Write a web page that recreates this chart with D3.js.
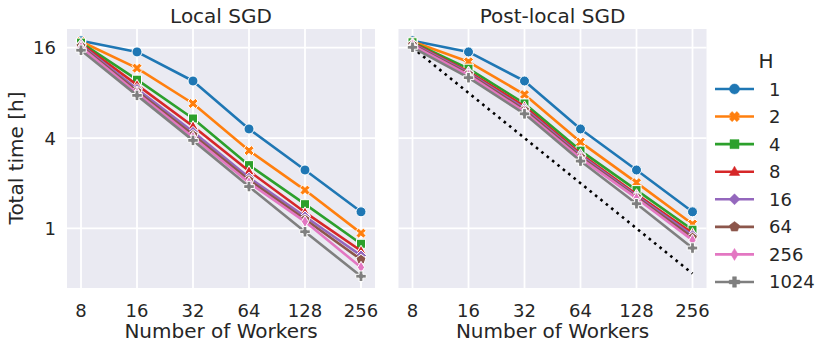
<!DOCTYPE html>
<html lang="en">
<head>
<meta charset="utf-8">
<style>
    body { margin: 0; background: #fff; }
    text { font-family: "DejaVu Sans", sans-serif; fill: #262626; }
</style>
</head>
<body>
<svg width="831" height="351"></svg>
<script src="https://d3js.org/d3.v7.min.js"></script>
<script>
    // data
    var workers = [8, 16, 32, 64, 128, 256];
    var hValues = [1, 2, 4, 8, 16, 64, 256, 1024];
    var localSgd = [
        [17.8, 15.0, 9.6, 4.6, 2.45, 1.29],
        [17.6, 11.7, 6.8, 3.3, 1.80, 0.93],
        [17.3, 9.8, 5.4, 2.64, 1.45, 0.79],
        [17.0, 9.05, 4.8, 2.41, 1.28, 0.71],
        [16.7, 8.5, 4.4, 2.18, 1.20, 0.66],
        [16.4, 8.2, 4.2, 2.10, 1.15, 0.62],
        [16.1, 8.0, 4.05, 2.02, 1.11, 0.55],
        [15.4, 7.7, 3.86, 1.90, 0.95, 0.48]
    ];
    var postLocalSgd = [
        [17.8, 15.0, 9.6, 4.6, 2.45, 1.29],
        [17.6, 12.9, 7.8, 3.76, 2.02, 1.07],
        [17.4, 11.6, 6.8, 3.3, 1.80, 0.98],
        [17.2, 11.1, 6.5, 3.14, 1.69, 0.93],
        [17.0, 10.9, 6.3, 3.07, 1.65, 0.90],
        [16.8, 10.7, 6.15, 3.0, 1.62, 0.87],
        [16.6, 10.5, 6.0, 2.93, 1.59, 0.835],
        [16.1, 10.1, 5.8, 2.81, 1.46, 0.74]
    ];
    var idealStart = 16;
    var yTicks = [1, 4, 16];
    var colors = ["#1f77b4", "#ff7f0e", "#2ca02c", "#d62728", "#9467bd", "#8c564b", "#e377c2", "#7f7f7f"];
    var markers = ["o", "X", "s", "^", "D", "p", "d", "P"];

    var svg = d3.select("svg");
    var panelW = 308, panelTop = 29, panelBottom = 288;
    var panels = [
        {title: "Local SGD", x0: 67, data: localSgd, ideal: false},
        {title: "Post-local SGD", x0: 398.5, data: postLocalSgd, ideal: true}
    ];

    // matplotlib style 5% margins in log space
    function logExtent(vals) {
        var lo = Math.log2(d3.min(vals)), hi = Math.log2(d3.max(vals));
        var m = (hi - lo) * 0.05;
        return [Math.pow(2, lo - m), Math.pow(2, hi + m)];
    }
    var allY = d3.merge(localSgd.concat(postLocalSgd));
    allY.push(idealStart * workers[0] / workers[workers.length - 1]);
    var y = d3.scaleLog().base(2).domain(logExtent(allY)).range([panelBottom, panelTop]);

    function markerPath(type, r) {
        var p;
        switch (type) {
            case "o":
                return d3.symbol(d3.symbolCircle, Math.PI * r * r)();
            case "s":
                return "M" + -r * 0.9 + "," + -r * 0.9 + "h" + 1.8 * r + "v" + 1.8 * r + "h" + -1.8 * r + "Z";
            case "D":
                return "M0," + -r * 1.1 + "L" + r * 1.1 + ",0L0," + r * 1.1 + "L" + -r * 1.1 + ",0Z";
            case "d":
                return "M0," + -r * 1.2 + "L" + r * 0.72 + ",0L0," + r * 1.2 + "L" + -r * 0.72 + ",0Z";
            case "^":
                return "M0," + -r * 1.1 + "L" + r * 1.05 + "," + r * 0.75 + "L" + -r * 1.05 + "," + r * 0.75 + "Z";
            case "p":
                p = d3.range(5).map(function (i) {
                    var a = -Math.PI / 2 + i * 2 * Math.PI / 5;
                    return [r * 1.05 * Math.cos(a), r * 1.05 * Math.sin(a)];
                });
                return "M" + p.join("L") + "Z";
            case "P":
            case "X":
                var a = r * 0.38, b = r * 1.05;
                p = [[-a, -b], [a, -b], [a, -a], [b, -a], [b, a], [a, a], [a, b], [-a, b], [-a, a], [-b, a], [-b, -a], [-a, -a]];
                if (type === "X") {
                    p = p.map(function (q) {
                        var c = Math.SQRT1_2;
                        return [(q[0] - q[1]) * c, (q[0] + q[1]) * c];
                    });
                }
                return "M" + p.join("L") + "Z";
        }
    }

    panels.forEach(function (panel, pi) {
        var x = d3.scaleLog().base(2)
            .domain(logExtent(workers))
            .range([panel.x0, panel.x0 + panelW]);
        var g = svg.append("g");

        g.append("rect")
            .attr("x", panel.x0).attr("y", panelTop)
            .attr("width", panelW).attr("height", panelBottom - panelTop)
            .attr("fill", "#eaeaf2");

        // grid
        g.selectAll(".vgrid").data(workers).enter().append("line")
            .attr("x1", function (d) { return x(d); })
            .attr("x2", function (d) { return x(d); })
            .attr("y1", panelTop).attr("y2", panelBottom)
            .attr("stroke", "#fff").attr("stroke-width", 1.8);
        g.selectAll(".hgrid").data(yTicks).enter().append("line")
            .attr("y1", function (d) { return y(d); })
            .attr("y2", function (d) { return y(d); })
            .attr("x1", panel.x0).attr("x2", panel.x0 + panelW)
            .attr("stroke", "#fff").attr("stroke-width", 1.8);

        // tick labels
        g.selectAll(".xt").data(workers).enter().append("text")
            .attr("x", function (d) { return x(d); })
            .attr("y", 316.5)
            .attr("text-anchor", "middle")
            .style("font-size", "18px")
            .text(function (d) { return d; });
        if (pi === 0) {
            g.selectAll(".yt").data(yTicks).enter().append("text")
                .attr("x", 56)
                .attr("y", function (d) { return y(d) + 6.5; })
                .attr("text-anchor", "end")
                .style("font-size", "18px")
                .text(function (d) { return d; });
        }

        g.append("text")
            .attr("x", panel.x0 + panelW / 2).attr("y", 23)
            .attr("text-anchor", "middle")
            .style("font-size", "20px")
            .text(panel.title);
        g.append("text")
            .attr("x", panel.x0 + panelW / 2).attr("y", 338)
            .attr("text-anchor", "middle")
            .style("font-size", "20px")
            .text("Number of Workers");

        var line = d3.line()
            .x(function (d, i) { return x(workers[i]); })
            .y(function (d) { return y(d); });

        if (panel.ideal) {
            var ideal = workers.map(function (w) { return idealStart * workers[0] / w; });
            g.append("path")
                .attr("d", line(ideal))
                .attr("fill", "none")
                .attr("stroke", "#000")
                .attr("stroke-width", 2.6)
                .attr("stroke-dasharray", "2.6,4.3");
        }

        panel.data.forEach(function (series, si) {
            var sg = g.append("g");
            sg.append("path")
                .attr("d", line(series))
                .attr("fill", "none")
                .attr("stroke", colors[si])
                .attr("stroke-width", 2.6)
                .attr("stroke-linejoin", "round");
            sg.selectAll("path.mk").data(series).enter().append("path")
                .attr("class", "mk")
                .attr("transform", function (d, i) {
                    return "translate(" + x(workers[i]) + "," + y(d) + ")";
                })
                .attr("d", markerPath(markers[si], 5))
                .attr("fill", colors[si])
                .attr("stroke", "#fff")
                .attr("stroke-width", 1);
        });
    });

    // y label
    svg.append("text")
        .attr("transform", "translate(23,158) rotate(-90)")
        .attr("text-anchor", "middle")
        .style("font-size", "20px")
        .text("Total time [h]");

    // legend
    var legend = svg.append("g");
    legend.append("text")
        .attr("x", 766).attr("y", 68.3)
        .attr("text-anchor", "middle")
        .style("font-size", "20px")
        .text("H");
    var rows = legend.selectAll(".row").data(hValues).enter().append("g")
        .attr("transform", function (d, i) { return "translate(0," + (89 + i * 27.57) + ")"; });
    rows.append("line")
        .attr("x1", 715).attr("x2", 754)
        .attr("stroke", function (d, i) { return colors[i]; })
        .attr("stroke-width", 2.6);
    rows.append("path")
        .attr("transform", "translate(734.5,0)")
        .attr("d", function (d, i) { return markerPath(markers[i], 5); })
        .attr("fill", function (d, i) { return colors[i]; })
        .attr("stroke", function (d, i) { return colors[i]; })
        .attr("stroke-width", 0.5);
    rows.append("text")
        .attr("x", 769).attr("y", 6.5)
        .style("font-size", "18px")
        .text(function (d) { return d; });
</script>
</body>
</html>
